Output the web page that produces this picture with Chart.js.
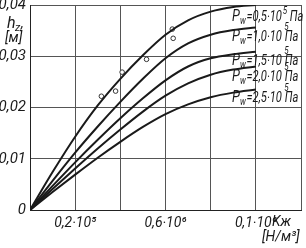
<!DOCTYPE html>
<html>
<head>
<meta charset="utf-8">
<script src="https://cdn.jsdelivr.net/npm/chart.js@4/dist/chart.umd.min.js"></script>
<style>
html,body{margin:0;padding:0;background:#fff;}
#wrap{width:306px;height:248px;}
</style>
</head>
<body>
<div id="wrap"><canvas id="c" width="306" height="248"></canvas></div>
<script>
// ---- data (K in units of 10^6 N/m^3, h_z in m) ----
const kValues = [0, 0.1, 0.2, 0.3, 0.4, 0.5, 0.6, 0.7, 0.8, 0.9, 1.0];
const hPw05 = [0, 0.0074, 0.0143, 0.0204, 0.0256, 0.0302, 0.0342, 0.0370, 0.0387, 0.0396, 0.0400];
const hPw10 = [0, 0.0057, 0.0112, 0.0163, 0.0211, 0.0256, 0.0296, 0.0325, 0.0342, 0.0351, 0.0356];
const hPw15 = [0, 0.0047, 0.0093, 0.0137, 0.0179, 0.0218, 0.0253, 0.0280, 0.0296, 0.0304, 0.0309];
const hPw20 = [0, 0.0041, 0.0081, 0.0120, 0.0157, 0.0192, 0.0223, 0.0247, 0.0264, 0.0274, 0.0280];
const hPw25 = [0, 0.0035, 0.0069, 0.0102, 0.0133, 0.0162, 0.0187, 0.0206, 0.0220, 0.0229, 0.0235];
const expK = [0.316, 0.379, 0.408, 0.516, 0.630, 0.634];
const expH = [0.0222, 0.0232, 0.0269, 0.0294, 0.0353, 0.0335];
const xTickLabels = ["", "0,2·10⁵", "", "0,6·10⁶", "", "0,1·10⁶", ""];
const yTickLabels = ["0", "0,01", "0,02", "0,03", "0,04"];
const pwValues = ["0,5", "1,0", "1,5", "2,0", "2,5"];
const seriesH = [hPw05, hPw10, hPw15, hPw20, hPw25];

const FONT = "'Liberation Sans Narrow', Roboto, sans-serif";
const INK = '#1a1a1a';

const datasets = seriesH.map((arr, i) => ({
  label: 'Pw=' + pwValues[i],
  data: kValues.map((k, j) => ({x: k, y: arr[j]})),
  borderColor: INK,
  borderWidth: 2,
  pointRadius: 0,
  fill: false,
  cubicInterpolationMode: 'monotone'
}));
datasets.push({
  label: 'exp',
  data: expK.map((k, j) => ({x: k, y: expH[j]})),
  showLine: false,
  pointRadius: 2.3,
  pointBorderWidth: 1,
  pointBorderColor: '#333',
  pointBackgroundColor: '#fff'
});

const textPlugin = {
  id: 'texts',
  afterDraw(chart, args, opts) {
    const ctx = chart.ctx;
    const xs = chart.scales.x, ys = chart.scales.y;
    ctx.save();
    ctx.fillStyle = INK;
    ctx.textBaseline = 'alphabetic';
    ctx.textAlign = 'left';
    const f = (s) => 'italic ' + s + 'px ' + FONT;
    // y axis title
    ctx.font = f(16); ctx.fillText('h', 7, 28);
    ctx.font = f(11); ctx.fillText('z', 15, 31);
    ctx.font = f(14); ctx.fillText(',', 21, 28);
    ctx.font = f(14); ctx.fillText('[м]', 5, 42);
    // x axis title
    ctx.font = f(14); ctx.fillText('Kж', 272, 226);
    ctx.font = f(14); ctx.fillText('[Н/м³]', 262, 241);
    // series labels (horizontally condensed lettering)
    opts.anchors.forEach((h, i) => {
      const x0 = xs.getPixelForValue(opts.labelK);
      const y = ys.getPixelForValue(h);
      ctx.save();
      ctx.translate(x0, y);
      ctx.scale(0.8, 1);
      let x = 0;
      ctx.font = f(16); ctx.fillText('P', x, 0); x += ctx.measureText('P').width;
      ctx.font = f(10); ctx.fillText('w', x, 3); x += ctx.measureText('w').width + 1;
      ctx.font = f(14);
      const t = '=' + pwValues[i] + '·10';
      ctx.fillText(t, x, 0); x += ctx.measureText(t).width;
      if (i === 0) {
        ctx.font = f(10); ctx.fillText('5', x + 1, -7); x += ctx.measureText('5').width + 1;
      } else {
        ctx.font = f(10); ctx.fillText('5', x + 3, -11);
      }
      ctx.font = f(14); ctx.fillText(' Па', x, 0);
      ctx.restore();
    });
    ctx.restore();
  }
};

new Chart(document.getElementById('c'), {
  type: 'line',
  data: {datasets},
  options: {
    responsive: false,
    animation: false,
    layout: {padding: {top: 4, right: 5, left: 0, bottom: 0}},
    plugins: {
      legend: {display: false},
      tooltip: {enabled: false},
      texts: {labelK: 0.895, anchors: [0.0369, 0.0330, 0.0282, 0.0251, 0.0210]}
    },
    scales: {
      x: {
        type: 'linear', min: 0, max: 1.2,
        afterBuildTicks: (s) => { s.ticks = xTickLabels.map((_, i) => ({value: i * 0.2})); },
        afterFit: (s) => { s.height = 38; s.paddingLeft = 0; s.paddingRight = 0; },
        grid: {color: '#555', lineWidth: 1, drawTicks: false},
        border: {color: '#222', width: 1},
        ticks: {
          color: INK, padding: 5, maxRotation: 0, autoSkip: false,
          font: {family: FONT, size: 14, style: 'italic'},
          callback: (v, i) => xTickLabels[i]
        }
      },
      y: {
        type: 'linear', min: 0, max: 0.04,
        afterBuildTicks: (s) => { s.ticks = yTickLabels.map((_, i) => ({value: i * 0.01})); },
        afterFit: (s) => { s.width = 30; s.paddingTop = 0; s.paddingBottom = 0; },
        grid: {color: '#555', lineWidth: 1, drawTicks: false},
        border: {color: '#222', width: 1},
        ticks: {
          color: INK, padding: 4,
          font: {family: FONT, size: 15, style: 'italic'},
          callback: (v, i) => yTickLabels[i]
        }
      }
    }
  },
  plugins: [textPlugin]
});
</script>
</body>
</html>
